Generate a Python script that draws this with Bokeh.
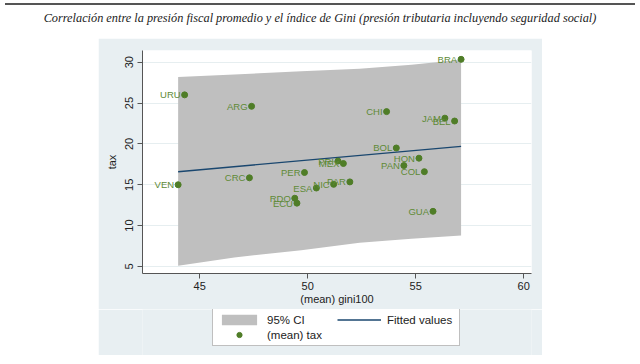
from bokeh.plotting import figure
from bokeh.models import ColumnDataSource, LabelSet, Legend, LegendItem, FixedTicker, Div, Range1d
from bokeh.layouts import column
from bokeh.embed import file_html
from bokeh.resources import INLINE
from bokeh.core.properties import value

# ---- data ----
countries = ["URU", "ARG", "PER", "PRI", "MEX", "BOL", "HON", "PAN", "COL", "PAR", "NIC",
             "ESA", "RDO", "ECU", "GUA", "BRA", "CHI", "JAM", "BEL", "VEN", "CRC"]
gini = [44.3, 47.4, 49.85, 51.4, 51.65, 54.1, 55.15, 54.45, 55.4, 51.95, 51.2,
        50.4, 49.4, 49.5, 55.8, 57.1, 53.65, 56.35, 56.8, 44.0, 47.3]
tax = [26.0, 24.6, 16.5, 17.9, 17.6, 19.5, 18.25, 17.35, 16.6, 15.35, 15.05,
       14.6, 13.35, 12.75, 11.75, 30.35, 23.95, 23.15, 22.8, 15.0, 15.85]

ci_gini = [44.0, 46.6, 49.7, 52.4, 54.8, 57.1]
ci_upper = [28.2, 28.5, 28.9, 29.2, 29.7, 30.3]
ci_lower = [5.1, 6.1, 7.0, 7.9, 8.4, 8.8]

fit_gini = [44.0, 57.1]
fit_tax = [16.6, 19.7]

x_ticks = [45, 50, 55, 60]
y_ticks = [5, 10, 15, 20, 25, 30]

title_text = ("Correlación entre la presión fiscal promedio y el índice de Gini "
              "(presión tributaria incluyendo seguridad social)")

BG = "#e8eff2"
GREEN = "#4f7d27"
GREEN_TXT = "#5e8a36"
NAVY = "#1a476f"
GRAY = "#bfbfbf"
FONT = "Liberation Sans"

p = figure(width=444, height=271,
           x_range=Range1d(42.35, 60.36), y_range=Range1d(4.14, 31.43),
           output_backend="svg", toolbar_location=None,
           min_border_left=44, min_border_right=11, min_border_top=12, min_border_bottom=36,
           border_fill_color=BG, background_fill_color="white", outline_line_color=None)

p.varea(x=ci_gini, y1=ci_lower, y2=ci_upper, fill_color=GRAY, fill_alpha=1.0)
p.line(x=fit_gini, y=fit_tax, line_color=NAVY, line_width=1.4)
src = ColumnDataSource(dict(gini=gini, tax=tax, country=countries))
p.scatter(x="gini", y="tax", source=src, size=6, fill_color=GREEN, line_color=GREEN)

labels = LabelSet(x="gini", y="tax", text="country", source=src,
                  text_align="right", text_baseline="middle", x_offset=-4,
                  text_font=value(FONT), text_font_size="9.5px", text_color=GREEN_TXT)
p.add_layout(labels)

# axes
p.xaxis.ticker = FixedTicker(ticks=x_ticks)
p.yaxis.ticker = FixedTicker(ticks=y_ticks)
p.xaxis.axis_label = "(mean) gini100"
p.yaxis.axis_label = "tax"
p.yaxis.major_label_orientation = "vertical"
for ax in (p.xaxis[0], p.yaxis[0]):
    ax.major_tick_out = 5
    ax.major_tick_in = 0
    ax.minor_tick_out = 0
    ax.minor_tick_in = 0
    ax.axis_line_color = "#555555"
    ax.major_tick_line_color = "#555555"
    ax.major_label_text_font = FONT
    ax.major_label_text_font_size = "11px"
    ax.major_label_text_color = "#222222"
    ax.axis_label_text_font = FONT
    ax.axis_label_text_font_size = "11px"
    ax.axis_label_text_font_style = "normal"
    ax.axis_label_text_color = "#222222"
p.xaxis.major_label_standoff = 3
p.xaxis.axis_label_standoff = 0
p.yaxis.major_label_standoff = 4
p.yaxis.axis_label_standoff = 5

p.xgrid.grid_line_color = None
p.ygrid.grid_line_color = "#e6eef0"
p.ygrid.grid_line_width = 1
p.margin = (0, 0, 0, 98)

# ---- legend strip (same background as the graph region) ----
# The legend's renderers use the same data but lie outside this strip's ranges.
pl = figure(width=444, height=46, x_range=Range1d(0, 1), y_range=Range1d(0, 1),
            x_axis_type=None, y_axis_type=None,
            output_backend="svg", toolbar_location=None, min_border=0,
            border_fill_color=BG, background_fill_color=BG, outline_line_color=None)
pl.xgrid.visible = False
pl.ygrid.visible = False
lb = pl.varea(x=ci_gini, y1=ci_lower, y2=ci_upper, fill_color=GRAY, fill_alpha=1.0)
ll = pl.line(x=fit_gini, y=fit_tax, line_color=NAVY, line_width=1.4)
lp = pl.scatter(x=gini, y=tax, size=6, fill_color=GREEN, line_color=GREEN)

legend = Legend(items=[LegendItem(label="95% CI", renderers=[lb]),
                       LegendItem(label="Fitted values", renderers=[ll]),
                       LegendItem(label="(mean) tax", renderers=[lp])],
                location=(70, 9), orientation="horizontal", ncols=2,
                border_line_color="#808080", border_line_width=1,
                background_fill_color="white", background_fill_alpha=1.0,
                padding=4, spacing=2, margin=0, label_standoff=6, label_width=68,
                glyph_width=44, glyph_height=13, label_height=13,
                label_text_font=FONT, label_text_font_size="11.5px", label_text_color="#222222")
pl.add_layout(legend, "center")
pl.margin = (0, 0, 0, 98)

title = Div(text=('<div style="width:640px;padding-top:3px;">'
                  '<div style="margin:0 5px;border-top:2px solid #555;"></div>'
                  '<div style="padding-top:6px;text-align:center;font-family:Liberation Serif,serif;'
                  'font-style:italic;font-size:12.3px;color:#222;line-height:14px;">'
                  + title_text + '</div></div>'),
            width=640, height=38, margin=(0, 0, 0, 0))

layout = column(title, p, pl, spacing=0)

with open("out.html", "w") as f:
    f.write(file_html(layout, INLINE))
